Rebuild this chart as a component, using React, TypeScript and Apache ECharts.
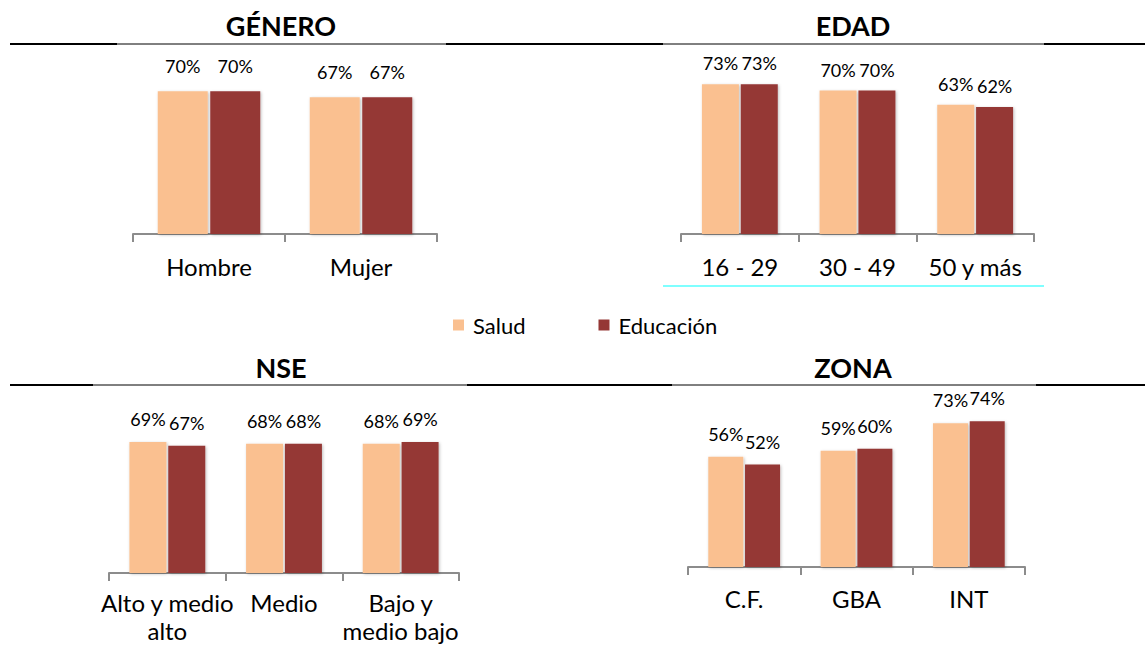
import React, { useEffect, useRef } from "react";
import * as echarts from "echarts";

const seriesNames = ["Salud", "Educación"];
const titles = ["GÉNERO", "EDAD", "NSE", "ZONA"];

const generoCats = ["Hombre", "Mujer"];
const generoSalud = [70, 67];
const generoEdu = [70, 67];

const edadCats = ["16 - 29", "30 - 49", "50 y más"];
const edadSalud = [73, 70, 63];
const edadEdu = [73, 70, 62];

const nseCats = ["Alto y medio\nalto", "Medio", "Bajo y\nmedio bajo"];
const nseSalud = [69, 68, 68];
const nseEdu = [67, 68, 69];

const zonaCats = ["C.F.", "GBA", "INT"];
const zonaSalud = [56, 59, 73];
const zonaEdu = [52, 60, 74];

const FONT = 'Lato, "Noto Sans", sans-serif';
const C_SALUD = "#FAC090";
const C_EDU = "#953735";

const panels = [
  { cats: generoCats, salud: generoSalud, edu: generoEdu, grid: { left: 133, top: 30, width: 304, height: 204 }, barWidth: 50, labelMargin: 18, labelDist: 16 },
  { cats: edadCats, salud: edadSalud, edu: edadEdu, grid: { left: 681, top: 29, width: 353, height: 205 }, barWidth: 37, labelMargin: 18, labelDist: 12 },
  { cats: nseCats, salud: nseSalud, edu: nseEdu, grid: { left: 109, top: 383, width: 350, height: 190 }, barWidth: 37, labelMargin: 15, labelDist: 14 },
  { cats: zonaCats, salud: zonaSalud, edu: zonaEdu, grid: { left: 688, top: 370, width: 337, height: 197 }, barWidth: 35, labelMargin: 17, labelDist: 14 },
];

const titlePos = [
  [281, 25],
  [853, 25],
  [281, 367],
  [853, 367],
];

function hline(x1: number, x2: number, y: number, w: number, color = "#000") {
  return { type: "line", silent: true, shape: { x1, y1: y, x2, y2: y }, style: { stroke: color, lineWidth: w } };
}

export default function App() {
  const ref = useRef<HTMLDivElement>(null);
  useEffect(() => {
    if (!ref.current) return;
    const chart = echarts.init(ref.current, undefined, { renderer: "svg" });
    const grids: any[] = [];
    const xAxes: any[] = [];
    const yAxes: any[] = [];
    const series: any[] = [];
    panels.forEach((p, i) => {
      grids.push({ ...p.grid, containLabel: false });
      xAxes.push({
        type: "category",
        gridIndex: i,
        data: p.cats,
        axisLine: { show: true, lineStyle: { color: "#8c8c8c", width: 2 } },
        axisTick: { show: true, length: 8, lineStyle: { color: "#8c8c8c", width: 2 } },
        axisLabel: { interval: 0, fontSize: 24, color: "#000", fontFamily: FONT, margin: p.labelMargin, lineHeight: 28 },
      });
      yAxes.push({ type: "value", gridIndex: i, min: 0, max: 100, show: false, splitLine: { show: false } });
      const mk = (name: string, data: number[], color: string) => ({
        type: "bar",
        name,
        xAxisIndex: i,
        yAxisIndex: i,
        data,
        barWidth: p.barWidth,
        barGap: "5%",
        itemStyle: { color, shadowColor: "rgba(0,0,0,0.25)", shadowBlur: 3, shadowOffsetX: 1, shadowOffsetY: 1 },
        label: { show: true, position: "top", distance: p.labelDist, formatter: "{c}%", fontSize: 18, color: "#000", fontFamily: FONT },
      });
      series.push(mk(seriesNames[0], p.salud, C_SALUD));
      series.push(mk(seriesNames[1], p.edu, C_EDU));
    });

    const graphics: any[] = [
      hline(10, 117, 44, 2), hline(117, 446, 44, 1), hline(446, 663, 44, 2), hline(663, 1044, 44, 1), hline(1044, 1145, 44, 2),
      hline(10, 93, 385, 2), hline(93, 467, 385, 1), hline(467, 672, 385, 2), hline(672, 1036, 385, 1), hline(1036, 1145, 385, 2),
      hline(663, 1044, 286, 1.2, "#00FFFF"),
    ];
    titles.forEach((t, i) => {
      graphics.push({
        type: "text",
        x: titlePos[i][0],
        y: titlePos[i][1],
        style: { text: t, font: `bold 27px ${FONT}`, fill: "#000", textAlign: "center", textVerticalAlign: "middle" },
      });
    });

    chart.setOption({
      animation: false,
      backgroundColor: "#fff",
      grid: grids,
      xAxis: xAxes,
      yAxis: yAxes,
      series,
      legend: {
        data: seriesNames,
        left: 448,
        top: 309,
        itemWidth: 11,
        itemHeight: 11,
        itemGap: 73,
        icon: "rect",
        textStyle: { fontSize: 22, color: "#000", fontFamily: FONT, lineHeight: 22, padding: [0, 0, 0, 4] },
      },
      graphic: graphics,
    });
    return () => chart.dispose();
  }, []);
  return <div ref={ref} style={{ position: "absolute", left: 0, top: 0, width: 1145, height: 646 }} />;
}
